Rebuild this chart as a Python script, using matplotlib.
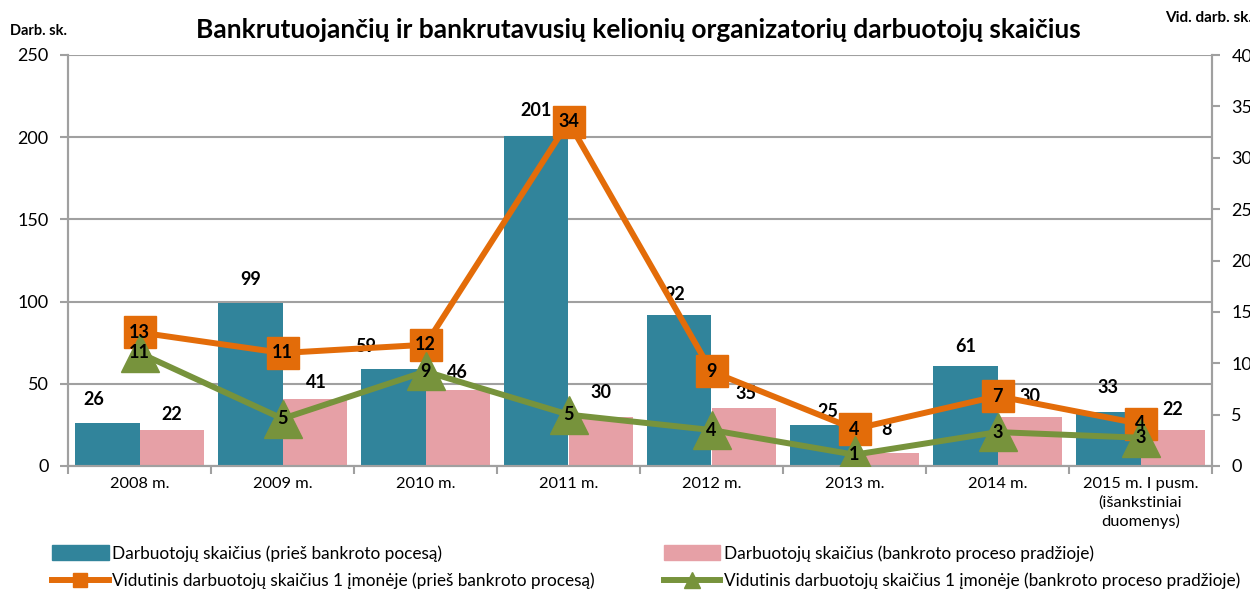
import matplotlib
matplotlib.use("Agg")
import matplotlib.pyplot as plt
from matplotlib.patches import Patch
from matplotlib.lines import Line2D
import numpy as np

plt.rcParams['font.family'] = ['Lato', 'DejaVu Sans']

categories = ["2008 m.", "2009 m.", "2010 m.", "2011 m.", "2012 m.", "2013 m.", "2014 m.",
              "2015 m. I pusm.\n(išankstiniai\nduomenys)"]
before = [26, 99, 59, 201, 92, 25, 61, 33]
start = [22, 41, 46, 30, 35, 8, 30, 22]
avg_before = [13, 11, 11.8, 33.5, 9.2, 3.6, 6.8, 4.1]
avg_start = [11, 4.6, 9.2, 5, 3.5, 1.1, 3.3, 2.75]

label_before = "Darbuotojų skaičius (prieš bankroto pocesą)"
label_start = "Darbuotojų skaičius (bankroto proceso pradžioje)"
label_avg_before = "Vidutinis darbuotojų skaičius 1 įmonėje (prieš bankroto procesą)"
label_avg_start = "Vidutinis darbuotojų skaičius 1 įmonėje (bankroto proceso pradžioje)"
title = "Bankrutuojančių ir bankrutavusių kelionių organizatorių darbuotojų skaičius"

# label offsets in pixels (dx, dy) for bar value labels
off_before = [(-14, 24), (0, 24), (-28, 23), (0, 25), (-5, 20), (5, 13), (0, 19), (0, 24)]
off_start = [(0, 15), (2, 16), (0, 18), (0, 24), (2, 15), (0, 23), (0, 20), (0, 20)]

c_blue = "#31849B"
c_pink = "#E6A0A6"
c_orange = "#E36C09"
c_green = "#77933C"
c_grid = "#A0A0A0"

fig = plt.figure(figsize=(12.5, 5.9), dpi=100)
ax = fig.add_axes([68/1250, 1-466/590, (1212-68)/1250, (466-55)/590])
ax2 = ax.twinx()

x = np.arange(len(categories))
w = 0.448
b1 = ax.bar(x - w/2, before, w, color=c_blue, zorder=2)
b2 = ax.bar(x + w/2, start, w, color=c_pink, zorder=2)

ax.set_xlim(-0.5, len(categories) - 0.5)
ax.set_ylim(0, 250)
ax.set_yticks(np.arange(0, 251, 50))
ax.yaxis.grid(True, color=c_grid, linewidth=1.5, zorder=0)
ax.set_axisbelow(True)
ax.set_xticks(x)
ax.set_xticklabels(categories, fontsize=11.8, linespacing=1.35)
ax.set_xticks(np.arange(-0.5, len(categories)), minor=True)
ax.tick_params(axis='x', which='major', length=0, pad=8)
ax.tick_params(axis='x', which='minor', length=6, width=1.5, color=c_grid, direction='out')
ax.tick_params(axis='y', length=6, width=1.5, color=c_grid, labelsize=13, pad=8)

for s in ['top']:
    ax.spines[s].set_visible(False)
    ax2.spines[s].set_visible(False)
for a in (ax, ax2):
    for s in ['left', 'right', 'bottom']:
        a.spines[s].set_color(c_grid)
        a.spines[s].set_linewidth(1.5)

for bars, vals, offs in ((b1, before, off_before), (b2, start, off_start)):
    for rect, v, (dx, dy) in zip(bars, vals, offs):
        ax.annotate(f"{v}", (rect.get_x() + rect.get_width()/2, rect.get_height()),
                    xytext=(dx*0.72, dy*0.72), textcoords='offset points',
                    ha='center', va='center', fontsize=13, fontweight='bold', zorder=5)

ax2.set_ylim(0, 40)
ax2.set_yticks(np.arange(0, 41, 5))
ax2.tick_params(axis='y', length=6, width=1.5, color=c_grid, labelsize=13, pad=8)

ax2.plot(x, avg_before, color=c_orange, linewidth=4.3, marker='s', markersize=23,
         markeredgecolor=c_orange, zorder=3)
ax2.plot(x, avg_start, color=c_green, linewidth=4.3, marker='^', markersize=28,
         markeredgecolor=c_green, zorder=4)
for xi, v in zip(x, avg_before):
    ax2.text(xi, v, f"{v:.0f}", ha='center', va='center', fontsize=13, fontweight='bold', zorder=6)
for xi, v in zip(x, avg_start):
    ax2.text(xi, v, f"{v:.0f}", ha='center', va='center', fontsize=13, fontweight='bold', zorder=6)

fig.text(638/1250, 1-30/590, title, ha='center', va='center', fontsize=19, fontweight='bold')
fig.text(10/1250, 1-31/590, "Darb. sk.", ha='left', va='center', fontsize=10.5, fontweight='bold')
fig.text(1165/1250, 1-18/590, "Vid. darb. sk.", ha='left', va='center', fontsize=11, fontweight='bold')

handles = [Patch(color=c_blue),
           Line2D([], [], color=c_orange, linewidth=4.3, marker='s', markersize=10),
           Patch(color=c_pink),
           Line2D([], [], color=c_green, linewidth=4.3, marker='^', markersize=12)]
labels = [label_before, label_avg_before, label_start, label_avg_start]
fig.legend(handles, labels, ncol=2, loc='lower left', bbox_to_anchor=(44/1250, -0.012),
           frameon=False, fontsize=12.4, handlelength=3.3, handleheight=1.0,
           handletextpad=0.2, columnspacing=4.0, labelspacing=0.65, borderaxespad=0.05)

fig.savefig("out.png", dpi=100)
